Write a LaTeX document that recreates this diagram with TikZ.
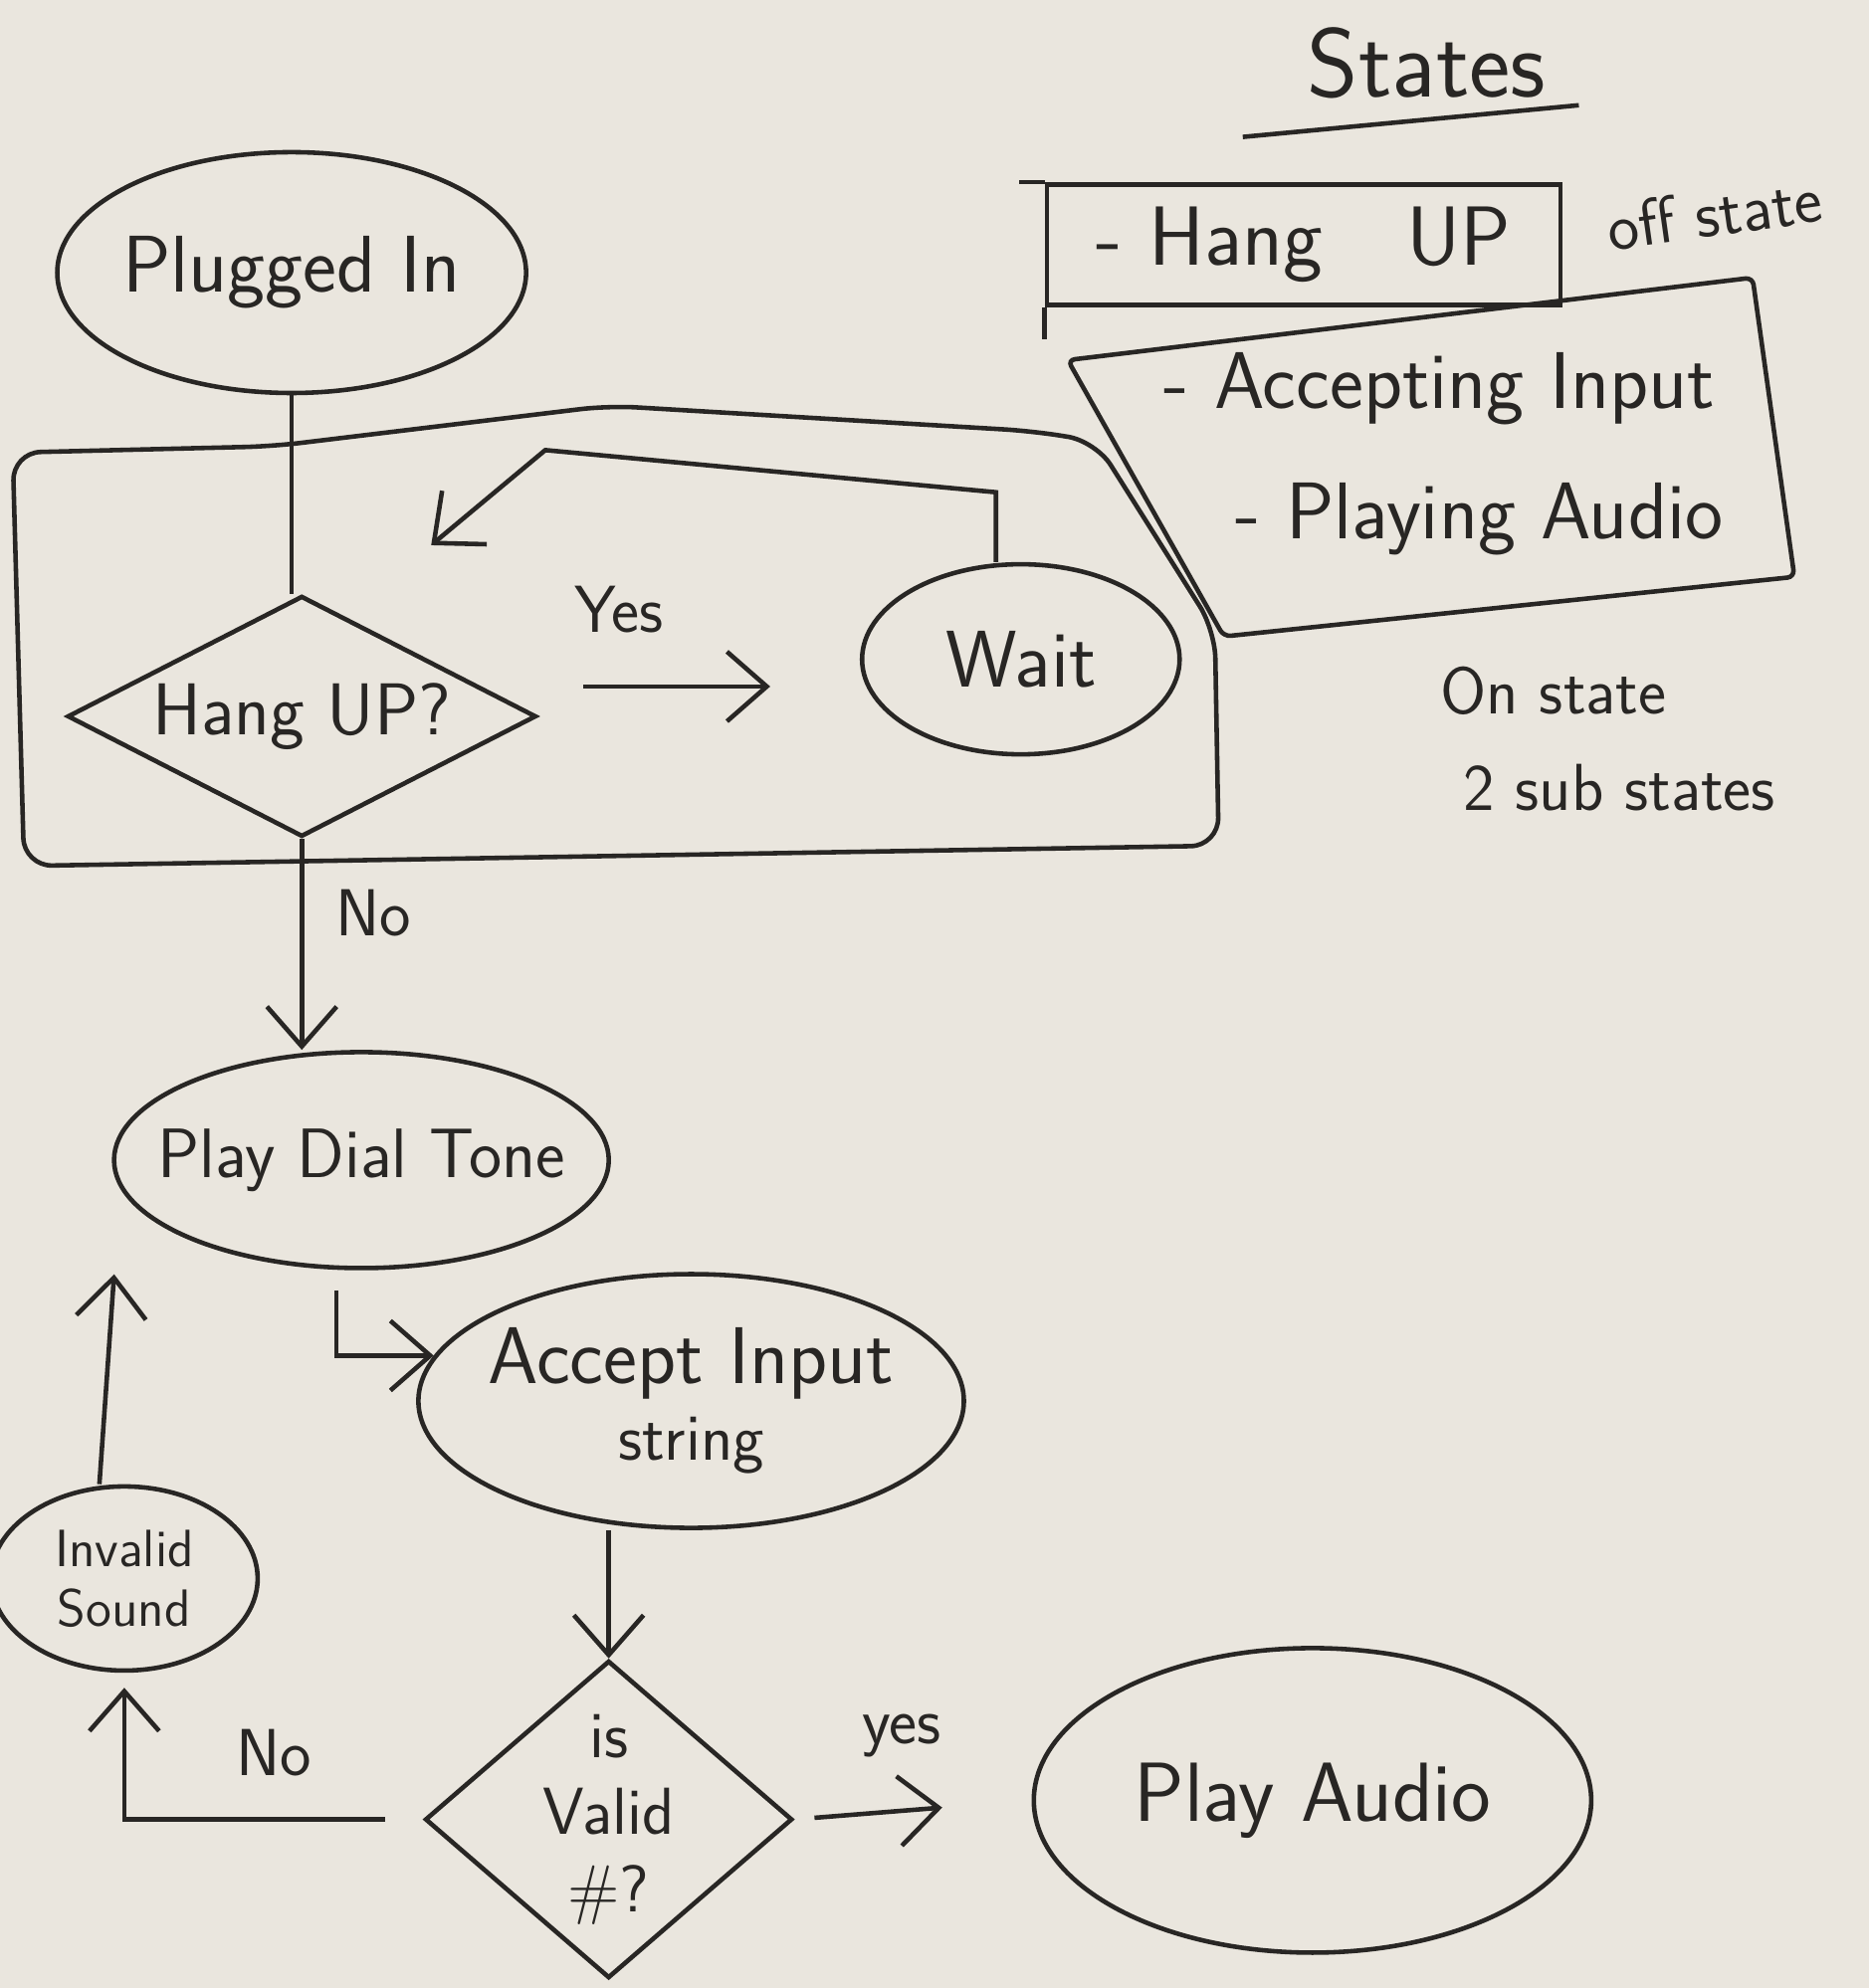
\documentclass[tikz,border=0pt]{standalone}
\usepackage{xcolor}
\usepackage{tikz}
\usetikzlibrary{shapes.geometric,arrows.meta}
\renewcommand{\familydefault}{\sfdefault}

\definecolor{paper}{RGB}{234,230,222}
\definecolor{ink}{RGB}{40,38,36}

\tikzset{
  state/.style={draw, ellipse, inner sep=0pt, font=\fontsize{23}{26}\selectfont},
  decide/.style={draw, diamond, inner sep=0pt},
  arrow/.style={-{Straight Barb[length=4mm,width=7mm]}},
  note/.style={font=\fontsize{19}{22}\selectfont},
}

\begin{document}
\begin{tikzpicture}[x=1.274cm, y=-1.274cm, line width=1.3pt, color=ink]
            \useasboundingbox (0,0) rectangle (14.74,15.68);
            \fill[paper] (0,0) rectangle (14.74,15.68);

            % flow chart
            \node[state, minimum width=4.71cm, minimum height=2.42cm, inner xsep=-0.3cm] (plugged) at (2.30,2.15) {Plugged In};
            \node[decide, aspect=2, minimum width=4.71cm, minimum height=2.42cm, font=\fontsize{21}{24}\selectfont] (hangq) at (2.38,5.65) {Hang UP?};
            \node[state, minimum width=3.19cm, minimum height=1.91cm] (wait) at (8.05,5.20) {Wait};
            \node[state, minimum width=4.97cm, minimum height=2.17cm, inner xsep=-0.75cm, font=\fontsize{20}{24}\selectfont] (dial) at (2.85,9.15) {Play Dial Tone};
            \node[state, minimum width=5.48cm, minimum height=2.55cm, inner xsep=-0.35cm, align=center] (accept) at (5.45,11.05) {Accept Input\\[-4pt]{\fontsize{19}{22}\selectfont string}};
            \node[state, minimum width=2.68cm, minimum height=1.85cm, align=center, font=\fontsize{15}{17}\selectfont] (invalid) at (0.98,12.45) {Invalid\\Sound};
            \node[decide, minimum width=3.69cm, minimum height=3.19cm] (valid) at (4.80,14.35) {};
            \node[align=center, font=\fontsize{19}{22}\selectfont] (validtxt) at (valid) {is\\Valid\\\#?};
            \node[state, minimum width=5.60cm, minimum height=3.06cm, font=\fontsize{24}{26}\selectfont] (playaudio) at (10.35,14.20) {Play Audio};

            % box round the hang up check
            \draw[rounded corners=8pt] (0.10,3.57) -- (2.15,3.52) -- (4.80,3.20) -- (8.14,3.40) -- (8.64,3.48)
                -- (9.58,4.97) -- (9.61,6.67) -- (0.19,6.83) -- cycle;

            \coordinate (loopend) at (3.40,4.30);
            \coordinate (backtip) at (0.90,10.05);

            \draw (plugged.south) -- (plugged.south |- hangq.north);
            \draw[arrow, shorten <=0.45cm, shorten >=0.9cm] ([yshift=0.3cm]hangq.east) -- ([yshift=0.3cm]hangq.east -| wait.west)
                node[pos=0.25, above=0.4cm, note] (yes1) {Yes};
            \draw[arrow] ([xshift=-0.25cm]wait.north) -- ++(0,-0.55) -- (4.30,3.55) -- (loopend);
            \draw[arrow] (hangq.south) -- (hangq.south |- dial.north)
                node[pos=0.35, right=0.2cm, note] (no1) {No};
            \draw[arrow, shorten <=0.2cm] ([xshift=-0.25cm]dial.south) |- (accept.170);
            \draw[arrow] (accept.south -| valid.north) -- (valid.north);
            \draw[arrow, shorten <=0.2cm, shorten >=0.9cm] (valid.east) -- (playaudio.west)
                node[pos=0.45, above=0.4cm, note] (yes2) {yes};
            \draw[arrow, shorten <=0.38cm, shorten >=0.15cm] (valid.west) -| (invalid.south)
                node[pos=0.25, above=0.3cm, note] (no2) {No};
            \draw[arrow] ([xshift=-0.25cm]invalid.north) -- (backtip);

            % list of states
            \node[font=\fontsize{28}{30}\selectfont] (states) at (11.25,0.50) {States};
            \draw (9.80,1.08) -- (12.45,0.83);
            \node[draw, rectangle, minimum width=5.16cm, minimum height=1.21cm, font=\fontsize{24}{26}\selectfont] (hangbox) at (10.28,1.93) {- Hang\quad UP};
            \draw (hangbox.south west) -- ++(0,0.25);
            \draw (hangbox.north west) -- ++(-0.2,0);
            \node[note, rotate=8] (offlbl) at (13.52,1.68) {off state};
            \node[align=center, font=\fontsize{23}{37}\selectfont] (onlist) at (11.35,3.58) {- Accepting Input\\\hspace{0.8cm}- Playing Audio};
            \draw[rounded corners=2pt] (8.42,2.84) -- (13.82,2.19) -- (14.15,4.55) -- (9.65,5.02) -- cycle;
            \node[note] (onlbl) at (12.25,5.45) {On state};
            \node[note] (sublbl) at (12.77,6.21) {2 sub states};
\end{tikzpicture}
\end{document}
